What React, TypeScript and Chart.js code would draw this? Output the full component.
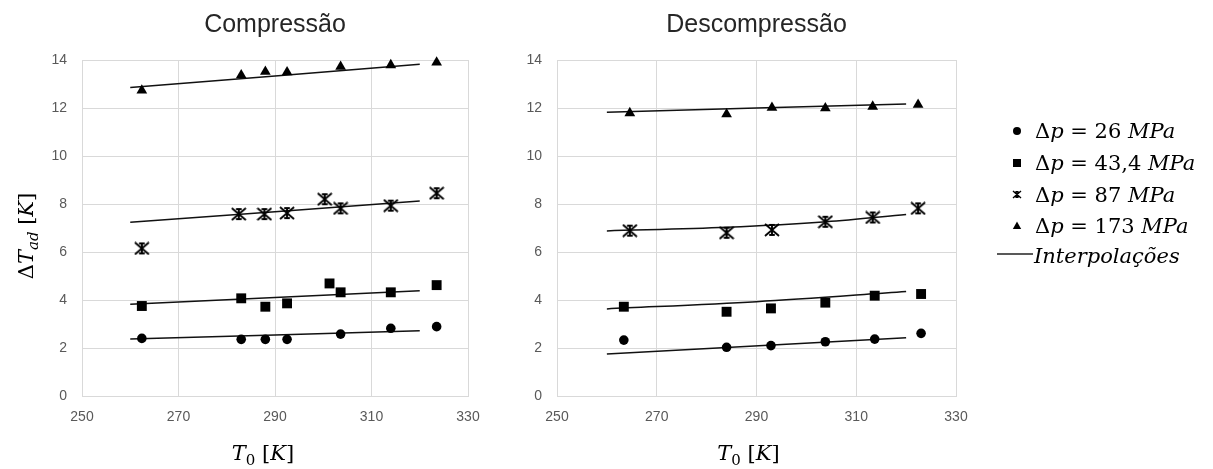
import React, { useEffect, useRef } from "react";
import { Chart, registerables } from "chart.js";
Chart.register(...registerables);

// ---------- DATA ----------
const xTickValues = [250, 270, 290, 310, 330];
const yTickValues = [0, 2, 4, 6, 8, 10, 12, 14];

// Compressão
const comp26T = [262.4, 283, 288, 292.5, 303.6, 314, 323.5];
const comp26 = [2.4, 2.36, 2.36, 2.36, 2.58, 2.82, 2.89];
const comp43T = [262.4, 283, 288, 292.5, 301.3, 303.6, 314, 323.5];
const comp43 = [3.75, 4.07, 3.72, 3.86, 4.69, 4.32, 4.32, 4.62];
const comp87T = [262.4, 282.5, 287.8, 292.5, 300.3, 303.6, 314, 323.5];
const comp87 = [6.15, 7.58, 7.58, 7.62, 8.2, 7.82, 7.93, 8.45];
const comp173T = [262.4, 283, 288, 292.5, 303.6, 314, 323.5];
const comp173 = [12.73, 13.37, 13.51, 13.49, 13.72, 13.79, 13.9];

const compFitT = [260, 320];
const compFit26 = [2.37, 2.72];
const compFit43 = [3.82, 4.39];
const compFit87 = [7.24, 8.12];
const compFit173 = [12.85, 13.82];

// Descompressão
const dec26T = [263.4, 284, 292.9, 303.8, 313.7, 323];
const dec26 = [2.33, 2.03, 2.1, 2.26, 2.37, 2.61];
const dec43T = [263.4, 284, 292.9, 303.8, 313.7, 323];
const dec43 = [3.72, 3.51, 3.65, 3.89, 4.18, 4.25];
const dec87T = [264.6, 284, 293.1, 303.8, 313.3, 322.4];
const dec87 = [6.89, 6.8, 6.92, 7.26, 7.44, 7.82];
const dec173T = [264.6, 284, 293.1, 303.8, 313.3, 322.4];
const dec173 = [11.79, 11.74, 12.01, 11.99, 12.06, 12.14];

const decFit26T = [260, 320];
const decFit26 = [1.75, 2.43];
const decFit43T = [260, 290, 320];
const decFit43 = [3.63, 3.93, 4.35];
const decFit87T = [260, 284, 304, 320];
const decFit87 = [6.88, 7.03, 7.26, 7.56];
const decFit173T = [260, 320];
const decFit173 = [11.82, 12.17];

const legendLabels = ["26", "43,4", "87", "173"];

// ---------- STYLE ----------
const GRID = "#d9d9d9";
const TICK_COLOR = "#595959";
const SANS = '"Liberation Sans", Arial, sans-serif';
const MATH_FONT = '"DejaVu Serif", serif';
const MATH_SIZE = 21;

type Part = { t: string; it?: boolean; sub?: boolean };

function drawRich(ctx: CanvasRenderingContext2D, parts: Part[], x: number, y: number, size: number, align: "left" | "center") {
  const fontFor = (p: Part) => `${p.it ? "italic " : ""}${p.sub ? Math.round(size * 0.7) : size}px ${MATH_FONT}`;
  let total = 0;
  const widths = parts.map((p) => {
    ctx.font = fontFor(p);
    const w = ctx.measureText(p.t).width;
    total += w;
    return w;
  });
  let cx = align === "center" ? x - total / 2 : x;
  ctx.textAlign = "left";
  ctx.textBaseline = "alphabetic";
  ctx.fillStyle = "#000";
  parts.forEach((p, i) => {
    ctx.font = fontFor(p);
    ctx.fillText(p.t, cx, y + (p.sub ? size * 0.22 : 0));
    cx += widths[i];
  });
}

function makeStar(w: number, h: number, lw: number): HTMLCanvasElement {
  const c = document.createElement("canvas");
  const pad = 1;
  c.width = w + pad * 2;
  c.height = h + pad * 2;
  const g = c.getContext("2d")!;
  g.strokeStyle = "#000";
  g.lineWidth = lw;
  g.lineCap = "butt";
  const l = pad, r = pad + w, t = pad, b = pad + h, m = pad + w / 2;
  const q = w * 0.2;
  g.beginPath();
  g.moveTo(l, t); g.lineTo(r, b);
  g.moveTo(r, t); g.lineTo(l, b);
  g.moveTo(m, t); g.lineTo(m, b);
  g.moveTo(m - q, t + lw / 2); g.lineTo(m + q, t + lw / 2);
  g.moveTo(m - q, b - lw / 2); g.lineTo(m + q, b - lw / 2);
  g.stroke();
  return c;
}

function pts(xs: number[], ys: number[]) {
  return xs.map((x, i) => ({ x, y: ys[i] }));
}

type ChartCfg = {
  title: string;
  series: { x: number[]; y: number[] }[];
  fits: { x: number[]; y: number[] }[];
  yAxisWidth: number;
  padRight: number;
  showYTitle: boolean;
  xTitleCenter: number;
  legend: boolean;
};

function buildChart(canvas: HTMLCanvasElement, cfg: ChartCfg) {
  const star = makeStar(14, 12, 1.9);
  const starSmall = makeStar(8, 7, 1.4);
  const styles: any[] = ["circle", "rect", star, "triangle"];
  const radii = [4.8, 7, 7, 6.2];

  const datasets: any[] = [];
  cfg.series.forEach((s, i) => {
    datasets.push({
      type: "scatter",
      data: pts(s.x, s.y),
      showLine: false,
      pointStyle: styles[i],
      pointRadius: radii[i],
      backgroundColor: "#000",
      borderColor: "#000",
      borderWidth: 0,
      clip: false,
      order: 1,
    });
  });
  cfg.fits.forEach((f) => {
    datasets.push({
      type: "line",
      data: pts(f.x, f.y),
      showLine: true,
      pointRadius: 0,
      borderColor: "#111",
      borderWidth: 1.5,
      cubicInterpolationMode: "monotone",
      fill: false,
      order: 2,
    });
  });

  const textPlugin = {
    id: "mathText",
    afterDraw(chart: any) {
      const ctx: CanvasRenderingContext2D = chart.ctx;
      const area = chart.chartArea;
      ctx.save();
      // chart title
      ctx.font = `25px ${SANS}`;
      ctx.fillStyle = "#262626";
      ctx.textAlign = "center";
      ctx.textBaseline = "alphabetic";
      ctx.fillText(cfg.title, (area.left + area.right) / 2, 32);
      // x title
      drawRich(ctx, [{ t: "T", it: true }, { t: "0", sub: true }, { t: " [" }, { t: "K", it: true }, { t: "]" }], cfg.xTitleCenter, 460, MATH_SIZE, "center");
      if (cfg.showYTitle) {
        ctx.save();
        ctx.translate(33, 236);
        ctx.rotate(-Math.PI / 2);
        drawRich(ctx, [{ t: "Δ" }, { t: "T", it: true }, { t: "ad", it: true, sub: true }, { t: " [" }, { t: "K", it: true }, { t: "]" }], 0, 0, MATH_SIZE, "center");
        ctx.restore();
      }
      if (cfg.legend) {
        const mx = 537;
        const tx = 555;
        const baselines = [138, 170, 201.5, 233];
        baselines.forEach((bl, i) => {
          const cy = bl - 7;
          ctx.fillStyle = "#000";
          if (i === 0) {
            ctx.beginPath();
            ctx.arc(mx, cy, 4, 0, Math.PI * 2);
            ctx.fill();
          } else if (i === 1) {
            ctx.fillRect(mx - 4, cy - 4, 8, 8);
          } else if (i === 2) {
            ctx.drawImage(starSmall, Math.round(mx - starSmall.width / 2), Math.round(cy - starSmall.height / 2));
          } else {
            ctx.beginPath();
            ctx.moveTo(mx, cy - 4.5);
            ctx.lineTo(mx + 4.2, cy + 3);
            ctx.lineTo(mx - 4.2, cy + 3);
            ctx.closePath();
            ctx.fill();
          }
          drawRich(ctx, [{ t: "Δ" }, { t: "p", it: true }, { t: " = " + legendLabels[i] + " " }, { t: "MPa", it: true }], tx, bl, MATH_SIZE, "left");
        });
        ctx.strokeStyle = "#222";
        ctx.lineWidth = 1.5;
        ctx.beginPath();
        ctx.moveTo(517, 254);
        ctx.lineTo(553, 254);
        ctx.stroke();
        drawRich(ctx, [{ t: "Interpolações", it: true }], 554, 263, MATH_SIZE, "left");
      }
      ctx.restore();
    },
  };

  return new Chart(canvas, {
    type: "scatter",
    data: { datasets },
    plugins: [textPlugin],
    options: {
      responsive: false,
      animation: false,
      devicePixelRatio: 1,
      layout: { padding: { left: 0, right: cfg.padRight, top: 60, bottom: 0 } },
      plugins: {
        legend: { display: false },
        tooltip: { enabled: false },
        title: { display: false },
      },
      scales: {
        x: {
          type: "linear",
          min: 250,
          max: 330,
          afterBuildTicks: (s: any) => {
            s.ticks = xTickValues.map((v) => ({ value: v }));
          },
          afterFit: (s: any) => {
            s.height = 73;
            s.paddingLeft = 0;
            s.paddingRight = 0;
          },
          ticks: { color: TICK_COLOR, font: { family: SANS, size: 14 }, padding: 13, maxRotation: 0 },
          grid: { color: GRID, lineWidth: 1, drawTicks: false },
          border: { color: GRID, width: 1 },
        },
        y: {
          type: "linear",
          min: 0,
          max: 14,
          afterBuildTicks: (s: any) => {
            s.ticks = yTickValues.map((v) => ({ value: v }));
          },
          afterFit: (s: any) => {
            s.width = cfg.yAxisWidth;
            s.paddingTop = 0;
            s.paddingBottom = 0;
          },
          ticks: { color: TICK_COLOR, font: { family: SANS, size: 14 }, padding: 15 },
          grid: { color: GRID, lineWidth: 1, drawTicks: false },
          border: { color: GRID, width: 1 },
        },
      },
    } as any,
  });
}

export default function App() {
  const leftRef = useRef<HTMLCanvasElement>(null);
  const rightRef = useRef<HTMLCanvasElement>(null);

  useEffect(() => {
    const left = buildChart(leftRef.current!, {
      title: "Compressão",
      series: [
        { x: comp26T, y: comp26 },
        { x: comp43T, y: comp43 },
        { x: comp87T, y: comp87 },
        { x: comp173T, y: comp173 },
      ],
      fits: [
        { x: compFitT, y: compFit26 },
        { x: compFitT, y: compFit43 },
        { x: compFitT, y: compFit87 },
        { x: compFitT, y: compFit173 },
      ],
      yAxisWidth: 82,
      padRight: 12,
      showYTitle: true,
      xTitleCenter: 263,
      legend: false,
    });
    const right = buildChart(rightRef.current!, {
      title: "Descompressão",
      series: [
        { x: dec26T, y: dec26 },
        { x: dec43T, y: dec43 },
        { x: dec87T, y: dec87 },
        { x: dec173T, y: dec173 },
      ],
      fits: [
        { x: decFit26T, y: decFit26 },
        { x: decFit43T, y: decFit43 },
        { x: decFit87T, y: decFit87 },
        { x: decFit173T, y: decFit173 },
      ],
      yAxisWidth: 77,
      padRight: 257,
      showYTitle: false,
      xTitleCenter: 268.5,
      legend: true,
    });
    return () => {
      left.destroy();
      right.destroy();
    };
  }, []);

  return (
    <div style={{ position: "fixed", left: 0, top: 0, width: 1213, height: 469, background: "#fff", overflow: "hidden" }}>
      <canvas ref={leftRef} width={480} height={469} style={{ position: "absolute", left: 0, top: 0, width: 480, height: 469 }} />
      <canvas ref={rightRef} width={733} height={469} style={{ position: "absolute", left: 480, top: 0, width: 733, height: 469 }} />
    </div>
  );
}
